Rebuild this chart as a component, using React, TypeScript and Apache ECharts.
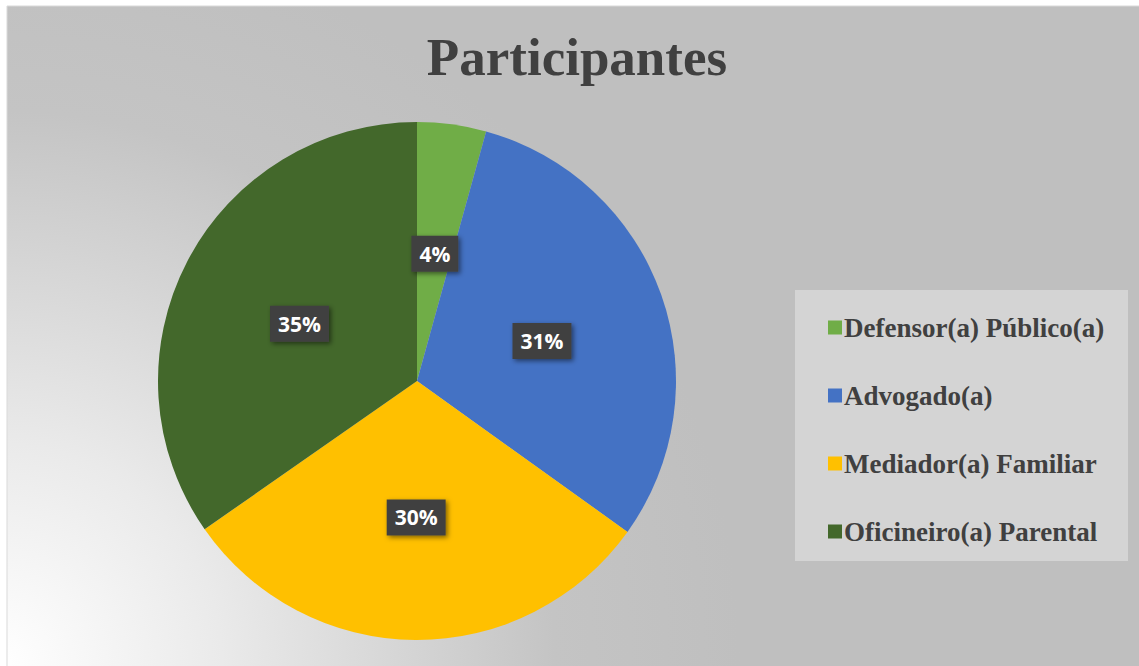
import React, { useEffect, useRef } from "react";
import * as echarts from "echarts";

const categories = ["Defensor(a) Público(a)", "Advogado(a)", "Mediador(a) Familiar", "Oficineiro(a) Parental"];
const values = [4.3, 30.6, 30.4, 34.7];
const colors = ["#70AD47", "#4472C4", "#FFC000", "#43682B"];

export default function App() {
  const ref = useRef<HTMLDivElement>(null);
  useEffect(() => {
    if (!ref.current) return;
    const chart = echarts.init(ref.current, undefined, { renderer: "svg" });
    chart.setOption({
      animation: false,
      backgroundColor: "#ffffff",
      graphic: [
        {
          type: "rect",
          shape: { x: 7, y: 6, width: 1140, height: 670 },
          style: {
            fill: new echarts.graphic.RadialGradient(0, 666, 740, [
              { offset: 0, color: "#ffffff" },
              { offset: 0.3, color: "#eaeaea" },
              { offset: 0.75, color: "#c4c4c4" },
              { offset: 1, color: "#bfbfbf" },
            ], true),
            stroke: "#d9d9d9",
            lineWidth: 1,
          },
          z: -10,
          silent: true,
        },
        {
          type: "rect",
          shape: { x: 795, y: 290, width: 333, height: 271 },
          style: { fill: "#d4d4d4" },
          z: -5,
          silent: true,
        },
      ],
      title: {
        text: "Participantes",
        left: 572,
        textAlign: "center",
        top: 25,
        textStyle: {
          fontFamily: "Liberation Serif",
          fontWeight: "bold",
          fontSize: 53,
          color: "#404040",
        },
      },
      legend: {
        orient: "vertical",
        left: 823,
        top: 309,
        icon: "rect",
        itemWidth: 14,
        itemHeight: 14,
        itemGap: 41,
        data: categories,
        textStyle: {
          fontFamily: "Liberation Serif",
          fontWeight: "bold",
          fontSize: 27,
          lineHeight: 26,
          color: "#404040",
          padding: [0, 0, 0, -3],
        },
      },
      series: [
        {
          type: "pie",
          center: [417, 381],
          radius: 259,
          startAngle: 90,
          clockwise: true,
          data: categories.map((name, i) => ({ name, value: values[i], itemStyle: { color: colors[i] } })),
          label: {
            show: true,
            position: "inside",
            formatter: (p: any) => Math.round(p.value) + "%",
            color: "#ffffff",
            fontFamily: "Open Sans",
            fontWeight: "bold",
            fontSize: 21,
            lineHeight: 24,
            backgroundColor: "#404040",
            padding: [7, 8, 5, 8],
            offset: [0, 4],
            shadowColor: "rgba(0,0,0,0.5)",
            shadowBlur: 5,
            shadowOffsetX: 2,
            shadowOffsetY: 2,
          },
          labelLine: { show: false },
          emphasis: { disabled: true },
        },
      ],
    });
    return () => chart.dispose();
  }, []);
  return <div ref={ref} style={{ position: "fixed", left: 0, top: 0, width: 1139, height: 666 }} />;
}
